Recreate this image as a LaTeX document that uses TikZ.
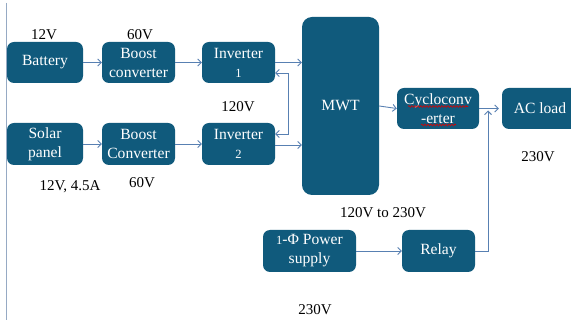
\documentclass[tikz,border=0pt]{standalone}
\usepackage{fontspec}
\setmainfont{Liberation Serif}
\usetikzlibrary{arrows.meta,calc,decorations.pathmorphing}
\definecolor{boxblue}{RGB}{16,90,124}
\definecolor{linkblue}{RGB}{88,128,178}
\definecolor{edgegray}{RGB}{150,170,196}
\tikzset{
  blk/.style={draw=none,fill=boxblue,rounded corners=7pt,text=white,align=center,
    font=\fontsize{15.6}{19}\selectfont,inner sep=0pt},
  lbl/.style={font=\fontsize{15}{17}\selectfont,text=black},
  link/.style={draw=linkblue,line width=0.9pt,-{Straight Barb[length=3.5pt,width=7pt]}},
  squig/.style={draw=red!85!black,line width=0.6pt,decorate,decoration={snake,amplitude=0.9pt,segment length=3pt}}
}
\newcommand{\oldone}{{\fontsize{12.5}{12}\selectfont 1}}
\newcommand{\oldtwo}{{\fontsize{12.5}{12}\selectfont 2}}
\begin{document}
\begin{tikzpicture}[x=1pt,y=-1pt]
\clip (0,0) rectangle (571,320);
\fill[white] (0,0) rectangle (571,320);
\draw[edgegray,line width=1pt] (6.5,3) -- (6.5,320);
% blocks
\node[blk,minimum width=76pt,minimum height=41pt] (batt) at (45,62.5) {Battery};
\node[blk,minimum width=73pt,minimum height=41pt] (boost1) at (138.5,62.5) {Boost\\converter};
\node[blk,minimum width=73pt,minimum height=41pt] (inv1) at (238.5,62.5) {Inverter\\\oldone};
\node[blk,minimum width=76pt,minimum height=42pt] (solar) at (45,144) {Solar\\panel};
\node[blk,minimum width=73pt,minimum height=42pt] (boost2) at (138.5,144) {Boost\\Converter};
\node[blk,minimum width=73pt,minimum height=42pt] (inv2) at (238.5,144) {Inverter\\\oldtwo};
\node[blk,minimum width=77pt,minimum height=178pt,rounded corners=10pt] (mwt) at (340.5,106) {MWT};
\node[blk,minimum width=82pt,minimum height=41pt] (cyclo) at (438,108.5) {Cycloconv\\-erter};
\node[blk,minimum width=76pt,minimum height=41pt] (acload) at (540,108.5) {AC load};
\node[blk,minimum width=93pt,minimum height=42pt] (ps) at (309.5,251) {\oldone-Φ Power\\supply};
\node[blk,minimum width=73pt,minimum height=42pt] (relay) at (438.5,251) {Relay};
% spell-check squiggles
\draw[squig] (408,106.5) -- (468,106.5);
\draw[squig] (421,125) -- (456,125);
% labels
\node[lbl] (l12) at (44,35) {12V};
\node[lbl] (l60a) at (140,35) {60V};
\node[lbl] (l120) at (238,107) {120V};
\node[lbl] (l12b) at (70,187) {12V, 4.5A};
\node[lbl] (l60b) at (142,183) {60V};
\node[lbl] (l230a) at (538,157) {230V};
\node[lbl] (l120230) at (383,213) {120V to 230V};
\node[lbl] (l230b) at (315,310) {230V};
% connectors
\draw[link] (batt.east) -- (boost1.west);
\draw[link] (boost1.east) -- (inv1.west);
\draw[link] (solar.east) -- (boost2.west);
\draw[link] (boost2.east) -- (inv2.west);
\draw[link] (inv1.east) -- (inv1.east -| mwt.west);
\draw[link] ($(inv2.east)+(0,1)$) -- ($(inv2.east -| mwt.west)+(0,1)$);
\coordinate (busA) at ($(inv1.east)+(13,10.5)$);
\coordinate (busB) at ($(inv2.east)+(13,-10)$);
\draw[link,{Straight Barb[length=3.5pt,width=7pt]}-{Straight Barb[length=3.5pt,width=7pt]}] ($(inv1.east)+(0,10.5)$) -- (busA) -- (busB) -- ($(inv2.east)+(0,-10)$);
\draw[link] (mwt.east) -- (cyclo.west);
\draw[link,shorten >=3pt] (cyclo.east) -- (acload.west);
\coordinate (join) at (488,110.5);
\draw[link] (relay.east) -| (join);
\draw[link] (ps.east) -- (relay.west);
\end{tikzpicture}
\end{document}
